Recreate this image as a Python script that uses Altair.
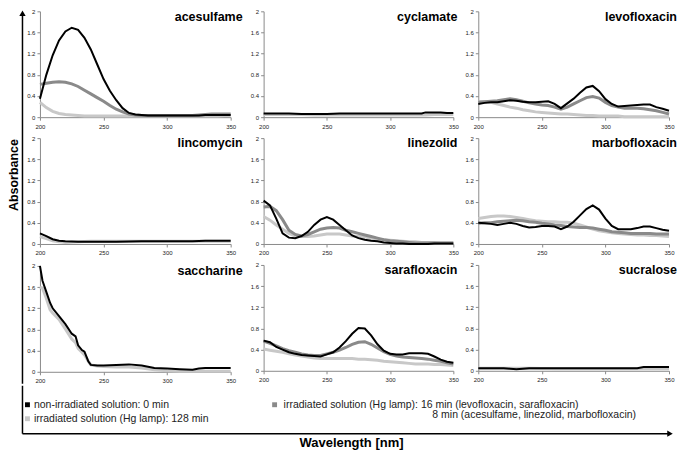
import altair as alt
import pandas as pd

FONT = "Liberation Sans"
BLACK, MID, LIGHT = "#000000", "#8a8a8a", "#c8c8c8"

# ---------------- data ----------------
WL5 = [200, 205, 210, 215, 220, 225, 230, 235, 240, 245, 250, 255, 260, 265, 270, 275,
       280, 285, 290, 295, 300, 305, 310, 315, 320, 325, 330, 335, 340, 345, 350]

ACES_0 = [0.35, 0.80, 1.17, 1.45, 1.62, 1.69, 1.65, 1.50, 1.28, 1.00, 0.72, 0.50, 0.32, 0.17, 0.08, 0.05,
          0.04, 0.03, 0.03, 0.03, 0.03, 0.03, 0.03, 0.03, 0.03, 0.03, 0.04, 0.04, 0.04, 0.04, 0.04]
ACES_MID = [0.62, 0.64, 0.66, 0.67, 0.66, 0.63, 0.58, 0.51, 0.44, 0.37, 0.30, 0.22, 0.15, 0.10, 0.06, 0.04,
            0.03, 0.03, 0.03, 0.03, 0.03, 0.03, 0.03, 0.03, 0.03, 0.04, 0.05, 0.06, 0.06, 0.06, 0.06]
ACES_128 = [0.28, 0.18, 0.11, 0.07, 0.05, 0.04, 0.03, 0.02, 0.02, 0.02, 0.02, 0.02, 0.02, 0.02, 0.02, 0.02,
            0.02, 0.02, 0.02, 0.02, 0.02, 0.02, 0.02, 0.02, 0.02, 0.02, 0.02, 0.02, 0.02, 0.03, 0.03]

CYCL_WL = [200, 210, 220, 230, 240, 250, 260, 270, 280, 290, 300, 310, 320, 325, 328, 335, 340, 345, 350]
CYCL_0 = [0.07, 0.07, 0.07, 0.06, 0.06, 0.06, 0.07, 0.07, 0.07, 0.07, 0.07, 0.07, 0.07, 0.07, 0.09, 0.09,
          0.09, 0.08, 0.08]
CYCL_128 = [0.05, 0.05, 0.05, 0.05, 0.04, 0.04, 0.04, 0.04, 0.04, 0.04, 0.04, 0.04, 0.04, 0.04, 0.04, 0.05,
            0.05, 0.05, 0.05]

LEVO_0 = [0.25, 0.27, 0.28, 0.28, 0.30, 0.32, 0.31, 0.29, 0.28, 0.28, 0.29, 0.30, 0.25, 0.17, 0.26, 0.35,
          0.46, 0.56, 0.59, 0.49, 0.34, 0.25, 0.20, 0.21, 0.22, 0.23, 0.24, 0.24, 0.19, 0.16, 0.12]
LEVO_MID = [0.28, 0.29, 0.30, 0.31, 0.33, 0.35, 0.33, 0.30, 0.27, 0.25, 0.23, 0.22, 0.19, 0.15, 0.19, 0.25,
            0.31, 0.37, 0.39, 0.36, 0.28, 0.22, 0.19, 0.17, 0.17, 0.17, 0.16, 0.14, 0.12, 0.09, 0.06]
LEVO_128 = [0.29, 0.29, 0.28, 0.25, 0.22, 0.19, 0.17, 0.14, 0.12, 0.10, 0.09, 0.08, 0.07, 0.06, 0.06, 0.05,
            0.04, 0.03, 0.03, 0.02, 0.02, 0.02, 0.02, 0.01, 0.01, 0.01, 0.01, 0.01, 0.01, 0.01, 0.01]

LINCO_WL = [200, 205, 210, 215, 220, 230, 240, 250, 260, 280, 300, 320, 330, 340, 350]
LINCO_0 = [0.20, 0.15, 0.09, 0.06, 0.05, 0.04, 0.04, 0.04, 0.04, 0.05, 0.05, 0.05, 0.06, 0.06, 0.06]
LINCO_128 = [0.14, 0.10, 0.06, 0.04, 0.03, 0.04, 0.05, 0.05, 0.05, 0.05, 0.05, 0.05, 0.05, 0.05, 0.05]

LINEZ_0 = [0.82, 0.73, 0.48, 0.20, 0.12, 0.11, 0.15, 0.23, 0.36, 0.46, 0.51, 0.46, 0.36, 0.26, 0.16, 0.11,
           0.08, 0.06, 0.05, 0.03, 0.02, 0.01, 0.01, 0.00, 0.00, 0.00, 0.00, 0.01, 0.01, 0.01, 0.01]
LINEZ_MID = [0.70, 0.71, 0.63, 0.46, 0.26, 0.18, 0.15, 0.18, 0.23, 0.28, 0.30, 0.31, 0.30, 0.26, 0.23, 0.20,
             0.17, 0.14, 0.11, 0.08, 0.06, 0.05, 0.04, 0.03, 0.02, 0.02, 0.02, 0.02, 0.02, 0.02, 0.02]
LINEZ_128 = [0.52, 0.45, 0.36, 0.28, 0.20, 0.15, 0.14, 0.14, 0.15, 0.17, 0.19, 0.19, 0.19, 0.17, 0.15, 0.14,
             0.13, 0.11, 0.09, 0.08, 0.07, 0.06, 0.05, 0.04, 0.04, 0.03, 0.03, 0.03, 0.02, 0.02, 0.02]

MARBO_0 = [0.40, 0.39, 0.38, 0.36, 0.38, 0.40, 0.38, 0.34, 0.31, 0.32, 0.34, 0.34, 0.33, 0.28, 0.33, 0.42,
           0.54, 0.66, 0.73, 0.65, 0.48, 0.34, 0.28, 0.28, 0.28, 0.30, 0.33, 0.33, 0.30, 0.27, 0.25]
MARBO_MID = [0.39, 0.40, 0.40, 0.42, 0.43, 0.44, 0.45, 0.44, 0.42, 0.41, 0.39, 0.38, 0.36, 0.35, 0.33, 0.32,
             0.31, 0.31, 0.30, 0.28, 0.26, 0.23, 0.22, 0.21, 0.20, 0.20, 0.20, 0.20, 0.19, 0.19, 0.19]
MARBO_128 = [0.48, 0.50, 0.52, 0.53, 0.53, 0.52, 0.50, 0.48, 0.46, 0.44, 0.43, 0.42, 0.42, 0.41, 0.41, 0.39,
             0.36, 0.32, 0.28, 0.25, 0.23, 0.21, 0.20, 0.19, 0.18, 0.17, 0.17, 0.16, 0.16, 0.15, 0.14]

SACCH_WL = [200, 202, 205, 208, 210, 215, 220, 225, 228, 230, 233, 235, 238, 240, 245, 250, 260, 270, 280,
            290, 300, 310, 320, 325, 330, 340, 350]
SACCH_0 = [2.00, 1.72, 1.51, 1.30, 1.20, 1.05, 0.90, 0.72, 0.67, 0.50, 0.41, 0.38, 0.20, 0.13, 0.12, 0.12,
           0.13, 0.14, 0.12, 0.07, 0.06, 0.05, 0.04, 0.06, 0.07, 0.07, 0.07]
SACCH_128 = [1.60, 1.58, 1.39, 1.17, 1.11, 0.99, 0.81, 0.62, 0.55, 0.44, 0.37, 0.32, 0.20, 0.13, 0.11, 0.10,
             0.09, 0.09, 0.07, 0.04, 0.02, 0.01, 0.01, 0.01, 0.01, 0.01, 0.01]

SARA_0 = [0.57, 0.54, 0.45, 0.40, 0.35, 0.32, 0.30, 0.29, 0.28, 0.27, 0.31, 0.35, 0.44, 0.56, 0.70, 0.81,
          0.80, 0.67, 0.50, 0.38, 0.32, 0.31, 0.31, 0.33, 0.33, 0.33, 0.32, 0.27, 0.21, 0.17, 0.15]
SARA_MID = [0.56, 0.52, 0.47, 0.42, 0.38, 0.35, 0.32, 0.30, 0.29, 0.29, 0.32, 0.35, 0.39, 0.44, 0.50, 0.54,
            0.55, 0.50, 0.43, 0.36, 0.31, 0.28, 0.26, 0.25, 0.24, 0.23, 0.22, 0.20, 0.18, 0.15, 0.13]
SARA_128 = [0.41, 0.39, 0.37, 0.35, 0.32, 0.30, 0.28, 0.26, 0.24, 0.23, 0.23, 0.23, 0.23, 0.23, 0.23, 0.22,
            0.22, 0.21, 0.20, 0.18, 0.17, 0.16, 0.15, 0.14, 0.13, 0.13, 0.13, 0.12, 0.12, 0.11, 0.10]

SUCRA_WL = [200, 220, 225, 230, 235, 240, 260, 280, 300, 320, 325, 330, 340, 350]
SUCRA_0 = [0.05, 0.05, 0.04, 0.03, 0.04, 0.05, 0.05, 0.05, 0.05, 0.05, 0.05, 0.07, 0.07, 0.07]
SUCRA_128 = [0.05, 0.05, 0.05, 0.05, 0.05, 0.05, 0.04, 0.04, 0.04, 0.04, 0.04, 0.04, 0.04, 0.04]

X_TICKS = [200, 250, 300, 350]
Y_TICKS = [0, 0.4, 0.8, 1.2, 1.6, 2]

LEGEND_LABELS = [
    "non-irradiated solution: 0 min",
    "irradiated solution (Hg lamp): 128 min",
    "irradiated solution (Hg lamp): 16 min (levofloxacin, sarafloxacin)",
    "8 min (acesulfame, linezolid, marbofloxacin)",
]
Y_TITLE = "Absorbance"
X_TITLE = "Wavelength [nm]"

# ---------------- helpers ----------------
AXCOL = "#8a8a8a"
ONE = pd.DataFrame({"k": [0]})
TITLE_SIZE = 12.5


def x_axis():
    return alt.Axis(values=X_TICKS, format="d", title=None, grid=False, labelFlush=False,
                    labelOverlap=False, labelFontSize=6, labelColor="#222", labelPadding=3,
                    tickSize=3, tickColor=AXCOL, domainColor=AXCOL, minExtent=13, maxExtent=13)


def y_axis(ext):
    return alt.Axis(values=Y_TICKS, format="~g", title=None, grid=False, labelFontSize=6,
                    labelColor="#222", labelPadding=2, tickSize=3, tickColor=AXCOL,
                    domainColor=AXCOL, minExtent=ext, maxExtent=ext)


def curve(wl, vals, color, sw, ext):
    df = pd.DataFrame({"wl": wl, "a": vals})
    return alt.Chart(df).mark_line(color=color, strokeWidth=sw).encode(
        x=alt.X("wl:Q", scale=alt.Scale(domain=[200, 350], nice=False, zero=False), axis=x_axis()),
        y=alt.Y("a:Q", scale=alt.Scale(domain=[0, 2], nice=False), axis=y_axis(ext)),
    )


def panel(name, curves, w, ext, tdx, ty):
    layers = [curve(wl, v, c, sw, ext) for (wl, v, c, sw) in curves]
    title = alt.Chart(pd.DataFrame({"t": [name]})).mark_text(
        align="right", baseline="middle", fontSize=TITLE_SIZE, fontWeight="bold", color="black"
    ).encode(text="t:N", x=alt.value(w + tdx), y=alt.value(ty))
    return alt.layer(*layers, title).properties(width=w, height=106)


def trio(wl, c0, cm, c128):
    return [(wl, c128, LIGHT, 3), (wl, cm, MID, 3), (wl, c0, BLACK, 2)]


def duo(wl, c0, c128):
    return [(wl, c128, LIGHT, 3), (wl, c0, BLACK, 2)]


STRIP_W = 17
E1, E2, E3 = 14, 21, 19
W1, W2, W3 = 191, 190, 191

col1 = alt.vconcat(
    panel("acesulfame", trio(WL5, ACES_0, ACES_MID, ACES_128), W1, E1, 12, 6),
    panel("lincomycin", duo(LINCO_WL, LINCO_0, LINCO_128), W1, E1, 12, 5),
    panel("saccharine", duo(SACCH_WL, SACCH_0, SACCH_128), W1, E1, 12, 5),
    spacing=5,
)
col2 = alt.vconcat(
    panel("cyclamate", duo(CYCL_WL, CYCL_0, CYCL_128), W2, E2, 4, 6),
    panel("linezolid", trio(WL5, LINEZ_0, LINEZ_MID, LINEZ_128), W2, E2, 4, 5),
    panel("sarafloxacin", trio(WL5, SARA_0, SARA_MID, SARA_128), W2, E2, 4, 5),
    spacing=5,
)
col3 = alt.vconcat(
    panel("levofloxacin", trio(WL5, LEVO_0, LEVO_MID, LEVO_128), W3, E3, 8, 6),
    panel("marbofloxacin", trio(WL5, MARBO_0, MARBO_MID, MARBO_128), W3, E3, 8, 5),
    panel("sucralose", duo(SUCRA_WL, SUCRA_0, SUCRA_128), W3, E3, 8, 5),
    spacing=5,
)

# left strip: vertical arrow + y title
STRIP_H = 373
ARROW_X = 13.5
strip = alt.layer(
    alt.Chart(ONE).mark_rule(color="black", strokeWidth=1.5).encode(
        x=alt.value(ARROW_X), y=alt.value(3), y2=alt.value(STRIP_H)),
    alt.Chart(ONE).mark_point(shape="triangle-up", filled=True, size=40, color="black", opacity=1).encode(
        x=alt.value(ARROW_X), y=alt.value(2)),
    alt.Chart(pd.DataFrame({"t": [Y_TITLE]})).mark_text(
        angle=270, align="center", baseline="bottom", fontSize=12.5, fontWeight="bold", color="black"
    ).encode(text="t:N", x=alt.value(12), y=alt.value(164)),
).properties(width=STRIP_W, height=STRIP_H)

# bottom: legend + horizontal arrow + x title
leg_pos = [(18.5, 25, 19, BLACK), (18.5, 25, 33, LIGHT), (266, 275, 19, MID), (None, 424, 29, None)]
bottom_layers = [
    alt.Chart(ONE).mark_rule(color="black", strokeWidth=1.5).encode(
        x=alt.value(ARROW_X), y=alt.value(0), y2=alt.value(48)),
    alt.Chart(ONE).mark_rule(color="black", strokeWidth=1.5).encode(
        x=alt.value(ARROW_X), x2=alt.value(660), y=alt.value(48)),
    alt.Chart(ONE).mark_point(shape="triangle-right", filled=True, size=40, color="black", opacity=1).encode(
        x=alt.value(662), y=alt.value(48)),
]
for label, (sx, tx, yy, col) in zip(LEGEND_LABELS, leg_pos):
    if sx is not None:
        bottom_layers.append(
            alt.Chart(ONE).mark_square(size=24, color=col, opacity=1).encode(
                x=alt.value(sx), y=alt.value(yy)))
    bottom_layers.append(
        alt.Chart(pd.DataFrame({"t": [label]})).mark_text(
            align="left", baseline="middle", fontSize=10.5, color="#222"
        ).encode(text="t:N", x=alt.value(tx), y=alt.value(yy)))
bottom_layers.append(
    alt.Chart(pd.DataFrame({"t": [X_TITLE]})).mark_text(
        align="center", baseline="middle", fontSize=13, fontWeight="bold", color="black"
    ).encode(text="t:N", x=alt.value(343), y=alt.value(57)))
bottom = alt.layer(*bottom_layers).properties(width=664, height=60)

top = alt.hconcat(strip, col1, col2, col3, spacing=0)
chart = alt.vconcat(top, bottom, spacing=0, padding=0).configure(font=FONT).configure_view(stroke=None)

chart.save("out.html", embed_options={"renderer": "svg", "actions": False})
